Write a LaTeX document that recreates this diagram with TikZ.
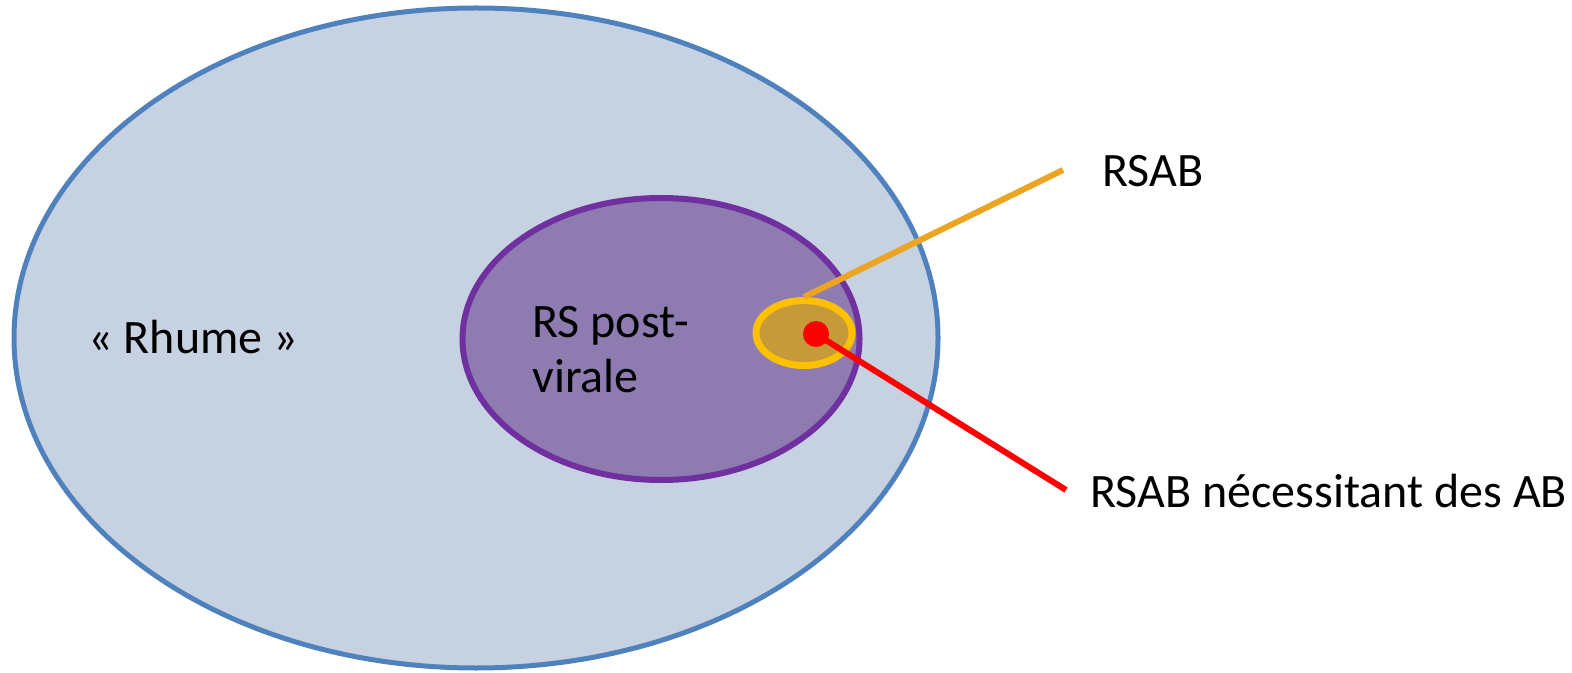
\documentclass[tikz,border=0pt]{standalone}
\usepackage{fontspec}
\setmainfont{Carlito}
\usetikzlibrary{shapes.geometric}
\definecolor{rhumefill}{RGB}{198,210,225}
\definecolor{rhumeline}{RGB}{79,129,189}
\definecolor{viralefill}{RGB}{142,124,176}
\definecolor{viraleline}{RGB}{112,48,160}
\definecolor{rsabfill}{RGB}{196,154,58}
\definecolor{rsabline}{RGB}{255,192,0}
\definecolor{rsabpointer}{RGB}{235,165,35}

\begin{document}
\begin{tikzpicture}[x=0.5pt,y=-0.5pt,
  set/.style={ellipse,inner sep=0pt},
  settext/.style={font=\fontsize{24}{27.5}\selectfont,inner sep=0pt,anchor=base west,align=left}]
\useasboundingbox (0,0) rectangle (1572,673);
% SETS
\node [set,draw=rhumeline,line width=2.5pt,fill=rhumefill,minimum width=462pt,minimum height=330pt] (rhume) at (476,338) {};
\node [set,draw=viraleline,line width=3pt,fill=viralefill,minimum width=198.5pt,minimum height=141pt] (virale) at (661,339) {};
\node [set,draw=rsabline,line width=3.5pt,fill=rsabfill,minimum width=48pt,minimum height=32.5pt] (rsab) at (804,333) {};
% LABELS
\node [settext] (rhumetext) at (88,353) {« Rhume »};
\node [settext] (viraletext) at (532,392) {RS post-\\virale};
\node [settext] (rsabtext) at (1102,187) {RSAB};
\node [settext] (abtext) at (1090,507) {RSAB nécessitant des AB};
% POINTERS
\coordinate (abcentre) at (816,334);
\coordinate (rsabend) at (1063,170);
\coordinate (abend) at (1066,490);
\draw [rsabpointer,line width=3pt] (rsab.north) -- (rsabend);
\draw [red,line width=3pt] (abcentre) -- (abend);
\node [circle,fill=red,inner sep=0pt,minimum size=13pt] (abdot) at (abcentre) {};
\end{tikzpicture}
\end{document}
